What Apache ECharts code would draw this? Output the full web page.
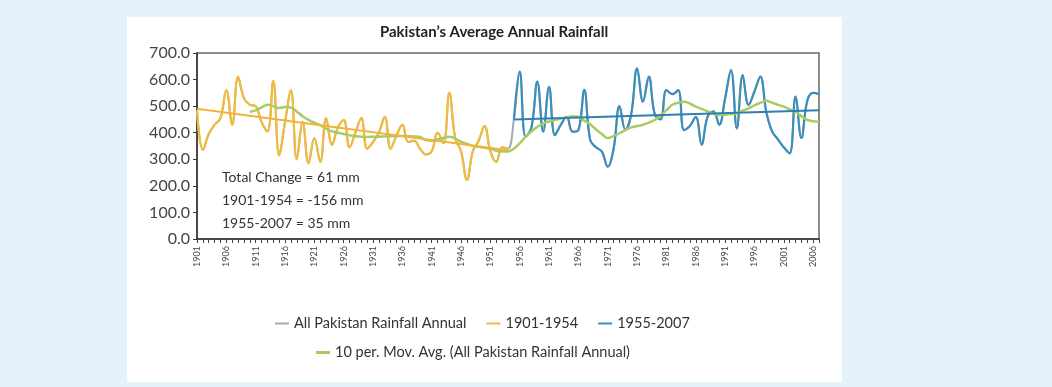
<!DOCTYPE html>
<html>
<head>
<meta charset="utf-8">
<script src="https://cdn.jsdelivr.net/npm/echarts@6/dist/echarts.min.js"></script>
<style>
  html, body { margin: 0; padding: 0; background: #e4f2fc; }
  #panel { position: absolute; left: 127px; top: 17px; width: 715px; height: 365px; background: #fff; }
  #main { position: absolute; left: 0; top: 0; width: 1052px; height: 387px; }
</style>
</head>
<body>
<div id="panel"></div>
<div id="main"></div>
<script>
// 年份 1901-2007
var firstYear = 1901;
var lastYear = 2007;
var years = [];
for (var y = firstYear; y <= lastYear; y++) {
	years.push(String(y));
}

// 1901-1954 年降雨量 (mm)
var rain1901to1954 = [
	485, 335, 395, 430, 455, 560, 430, 610, 530, 505,
	500, 440, 405, 595, 315, 440, 560, 300, 440, 285,
	380, 290, 455, 355, 420, 448, 345, 400, 455, 340,
	365, 400, 460, 340, 390, 430, 365, 370, 340, 318,
	330, 400, 360, 550, 380, 330, 222, 330, 370, 425,
	330, 290, 345, 340
];

// 1955-2007 年降雨量 (mm)
var rain1955to2007 = [
	450, 630, 385, 420, 592, 404, 573, 391, 430, 460,
	404, 410, 561, 373, 345, 329, 272, 340, 500, 410,
	470, 642, 517, 611, 470, 450, 560, 545, 560, 410,
	425, 460, 355, 460, 480, 430, 530, 636, 416, 617,
	505, 555, 611, 480, 405, 375, 345, 322, 536, 380,
	520, 550, 545
];

// 10年移动平均 (从1910开始)
var movAvg = [
	479, 484, 495, 505, 500, 493, 497, 495, 480, 462,
	448, 438, 429, 415, 405, 400, 395, 390, 387, 385,
	384, 385, 385, 386, 387, 388, 388, 387, 386, 384,
	372, 370, 375, 380, 385, 378, 366, 358, 350, 347,
	343, 340, 332, 329, 329, 340, 360, 385, 405, 422,
	435, 442, 448, 453, 458, 462, 460, 445, 432, 412,
	395, 380, 388, 398, 410, 420, 425, 430, 438, 448,
	465, 485, 505, 513, 517, 510, 498, 490, 480, 472,
	467, 468, 470, 473, 483, 492, 503, 512, 520, 513,
	505, 498, 488, 479, 462, 448, 443, 441
];

// 趋势线端点
var trendEarly = [['1901', 490], ['1954', 334]];
var trendLate = [['1955', 450], ['2007', 485]];

var notes = ['Total Change = 61 mm', '1901-1954 = -156 mm', '1955-2007 = 35 mm'];

var allRain = rain1901to1954.concat(rain1955to2007);
var earlySeries = rain1901to1954.concat(rain1955to2007.map(function() { return '-'; }));
var lateSeries = rain1901to1954.map(function() { return '-'; }).concat(rain1955to2007);
var avgSeries = [];
for (var k = 0; k < years.length - movAvg.length; k++) avgSeries.push('-');
avgSeries = avgSeries.concat(movAvg);

var FONT = 'Lato, "Open Sans", sans-serif';

var chart = echarts.init(document.getElementById('main'), null, { renderer: 'canvas' });

var option = {
	backgroundColor: 'transparent',
	animation: false,
	textStyle: { fontFamily: FONT },
	title: {
		text: 'Pakistan\u2019s Average Annual Rainfall',
		left: 489,
		textAlign: 'center',
		top: 20,
		textStyle: { fontSize: 15, fontWeight: 'bold', color: '#222', fontFamily: FONT }
	},
	legend: [{
		data: ['All Pakistan Rainfall Annual', '1901-1954', '1955-2007'],
		left: 270,
		top: 311,
		itemWidth: 14,
		itemHeight: 2,
		itemGap: 20,
		icon: 'rect',
		textStyle: { fontSize: 14.5, color: '#333', fontFamily: FONT }
	}, {
		data: ['10 per. Mov. Avg. (All Pakistan Rainfall Annual)'],
		left: 311,
		top: 340,
		itemWidth: 14,
		itemHeight: 3,
		icon: 'rect',
		textStyle: { fontSize: 14.5, color: '#333', fontFamily: FONT }
	}],
	grid: {
		left: 197,
		right: 233,
		top: 53,
		bottom: 148,
		show: true,
		borderColor: '#666',
		borderWidth: 1.5,
		containLabel: false
	},
	xAxis: {
		type: 'category',
		data: years,
		boundaryGap: false,
		axisLine: { lineStyle: { color: '#333', width: 1.5 } },
		axisTick: { interval: 0, length: 4, lineStyle: { color: '#444' } },
		axisLabel: {
			interval: 4,
			rotate: 90,
			fontSize: 9,
			color: '#444',
			margin: 7
		},
		splitLine: { show: false }
	},
	yAxis: {
		type: 'value',
		min: 0,
		max: 700,
		interval: 100,
		axisLine: { show: true, lineStyle: { color: '#333', width: 1.5 } },
		axisTick: { show: true, length: 4, lineStyle: { color: '#333' } },
		axisLabel: {
			fontSize: 16,
			color: '#444',
			margin: 7,
			formatter: function(v) { return v.toFixed(1); }
		},
		splitLine: { show: false }
	},
	graphic: notes.map(function(t, i) {
		return {
			type: 'text',
			left: 222,
			top: 170 + i * 23,
			style: { text: t, fontSize: 14, fill: '#333', fontFamily: FONT }
		};
	}),
	series: [{
			name: 'All Pakistan Rainfall Annual',
			type: 'line',
			data: allRain,
			smooth: 0.4,
			showSymbol: false,
			color: '#a8a8b4',
			lineStyle: { width: 2, color: '#a8a8b4' },
			z: 1
		},
		{
			name: '1901-1954',
			type: 'line',
			data: earlySeries,
			smooth: 0.4,
			showSymbol: false,
			color: '#f2bc3a',
			lineStyle: { width: 2.2, color: '#f2bc3a' },
			z: 2
		},
		{
			name: '1955-2007',
			type: 'line',
			data: lateSeries,
			smooth: 0.4,
			showSymbol: false,
			color: '#3a8fbc',
			lineStyle: { width: 2.2, color: '#3a8fbc' },
			z: 2
		},
		{
			name: '10 per. Mov. Avg. (All Pakistan Rainfall Annual)',
			type: 'line',
			data: avgSeries,
			smooth: 0.4,
			showSymbol: false,
			color: '#a9cc62',
			lineStyle: { width: 2.5, color: '#a9cc62' },
			z: 3
		},
		{
			name: 'trend1',
			type: 'line',
			data: trendEarly,
			showSymbol: false,
			lineStyle: { width: 2, color: '#f0b43c' },
			z: 4
		},
		{
			name: 'trend2',
			type: 'line',
			data: trendLate,
			showSymbol: false,
			lineStyle: { width: 2, color: '#2f7fb4' },
			z: 4
		}
	]
};

chart.setOption(option);
</script>
</body>
</html>
